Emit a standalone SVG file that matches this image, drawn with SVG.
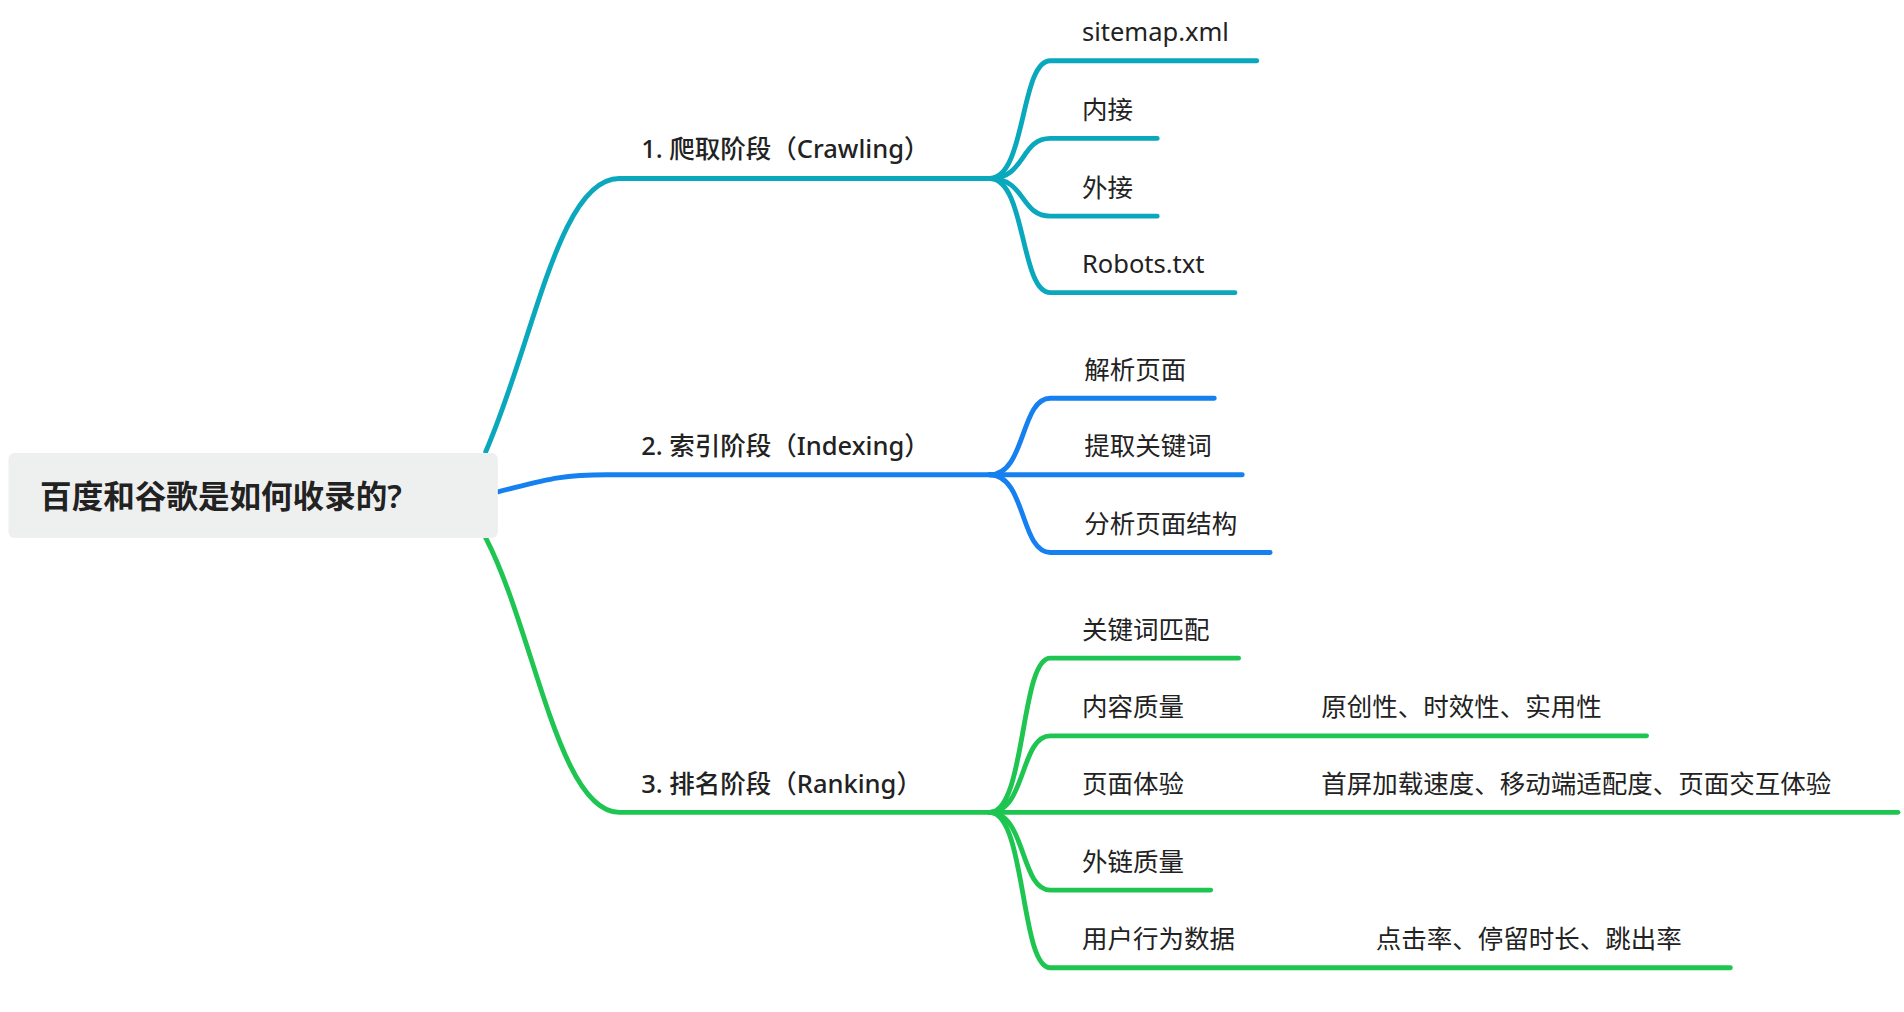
<svg xmlns="http://www.w3.org/2000/svg" width="1904" height="1012" viewBox="0 0 1904 1012">
<style>
text{font-family:"Noto Sans","Noto Sans CJK SC",sans-serif;fill:#222}
.l{fill:none;stroke-width:4;stroke-linecap:round}
.t{stroke:#0aa8bd}.b{stroke:#1680f0}.g{stroke:#1ec550}
.c{font-size:21px}.m{font-size:21px;font-weight:500}
</style>
<rect width="1904" height="1012" fill="#fff"/>
<g transform="scale(1.2143)">
<g id="connectors">
<path class="l t" d="M400 372 C440 280 460 147 510 147 L815 147"/>
<path class="l b" d="M410 405 C450 395 460 391 500 391 L815 391"/>
<path class="l g" d="M400 443 C440 520 460 669 510 669 L815 669"/>
<path class="l t" d="M815 147 C845 147 840 50 865 50 L1035 50"/>
<path class="l t" d="M815 147 C845 147 840 114 865 114 L953 114"/>
<path class="l t" d="M815 147 C845 147 840 178 865 178 L953 178"/>
<path class="l t" d="M815 147 C845 147 840 241 865 241 L1017 241"/>
<path class="l b" d="M815 391 C845 391 840 328 865 328 L1000 328"/>
<path class="l b" d="M815 391 L1023 391"/>
<path class="l b" d="M815 391 C845 391 840 455 865 455 L1046 455"/>
<path class="l g" d="M815 669 C845 669 840 542 865 542 L1020 542"/>
<path class="l g" d="M815 669 C845 669 840 606 865 606 L1356 606"/>
<path class="l g" d="M815 669 L1563 669"/>
<path class="l g" d="M815 669 C845 669 840 733 865 733 L997 733"/>
<path class="l g" d="M815 669 C845 669 840 797 865 797 L1425 797"/>
</g>
<g id="root"><rect x="7" y="373" width="403" height="70" rx="5" fill="#eef0ef"/><text x="33" y="418" font-size="26" font-weight="600">百度和谷歌是如何收录的?</text></g>
<g id="b1"><text class="m" x="528" y="130">1. 爬取阶段（Crawling）</text></g>
<g id="b2"><text class="m" x="528" y="375">2. 索引阶段（Indexing）</text></g>
<g id="b3"><text class="m" x="528" y="653">3. 排名阶段（Ranking）</text></g>
<g id="n1"><text class="c" x="891" y="34">sitemap.xml</text></g>
<g id="n2"><text class="c" x="891" y="98">内接</text></g>
<g id="n3"><text class="c" x="891" y="162">外接</text></g>
<g id="n4"><text class="c" x="891" y="225">Robots.txt</text></g>
<g id="n5"><text class="c" x="893" y="312">解析页面</text></g>
<g id="n6"><text class="c" x="893" y="375">提取关键词</text></g>
<g id="n7"><text class="c" x="893" y="439">分析页面结构</text></g>
<g id="n8"><text class="c" x="891" y="526">关键词匹配</text></g>
<g id="n9"><text class="c" x="891" y="590">内容质量</text><text class="c" x="1088" y="590">原创性、时效性、实用性</text></g>
<g id="n10"><text class="c" x="891" y="653">页面体验</text><text class="c" x="1088" y="653">首屏加载速度、移动端适配度、页面交互体验</text></g>
<g id="n11"><text class="c" x="891" y="717">外链质量</text></g>
<g id="n12"><text class="c" x="891" y="781">用户行为数据</text><text class="c" x="1133" y="781">点击率、停留时长、跳出率</text></g>
</g>
</svg>
